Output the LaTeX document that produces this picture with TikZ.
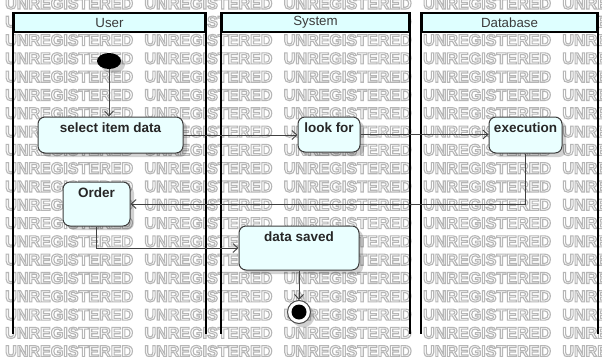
\documentclass[tikz,border=0pt]{standalone}
\usepackage{fontspec}
\setmainfont{Liberation Sans}
\usetikzlibrary{arrows.meta,shadows,shapes.geometric}
\definecolor{headfill}{RGB}{222,255,255}
\definecolor{actfill}{RGB}{234,255,255}
\definecolor{actline}{RGB}{60,60,60}
\definecolor{wmgray}{RGB}{182,182,182}
\definecolor{txtgray}{RGB}{60,60,60}
\newcommand{\wmword}{\special{pdf:literal direct 1 Tr 1.1 w}UNREGISTERED\special{pdf:literal direct 0 Tr}}
\begin{document}
\begin{tikzpicture}[x=1pt,y=-1pt,
  lane/.style={line width=2pt, draw=black},
  head/.style={draw=black, line width=2pt, fill=headfill, inner sep=0pt},
  headtxt/.style={font=\fontsize{13.3}{15}\selectfont, text=txtgray},
  shad/.style={drop shadow={shadow xshift=4pt, shadow yshift=-4pt, fill=black, opacity=0.18}},
  act/.style={draw=actline, line width=1pt, fill=actfill, rounded corners=7pt,
    inner xsep=0pt, inner ysep=0pt, text height=15.5pt,
    font=\bfseries\fontsize{13.5}{16}\selectfont, text=black!85, shad},
  flow/.style={draw=black!75, line width=0.9pt, -{Straight Barb[length=5pt,width=9pt]}},
  wm/.style={font=\bfseries\fontsize{16.1}{18}\selectfont, text=wmgray, anchor=west, inner sep=0pt},
]
\useasboundingbox (0,0) rectangle (602,356);
\fill[white] (0,0) rectangle (602,356);
% watermark
\begin{scope}
\clip (0,0) rectangle (602,356);
\foreach \r in {0,...,19}
  \foreach \k in {0,...,4}
    \node[wm] (wm-\r-\k) at ({5+139.3*\k},{3.5+18.3*\r}) {\wmword};
\end{scope}
% swimlanes
\node[head, headtxt, minimum width=191pt, minimum height=19pt] (huser) at (109.5,22.5) {User};
\node[head, headtxt, minimum width=187pt, minimum height=19pt] (hsys) at (315.5,22.5) {System};
\node[head, headtxt, minimum width=175pt, minimum height=19pt] (hdb) at (509.5,22.5) {Database};
\draw[lane] (huser.north west) -- ++(0,322);
\draw[lane] (huser.north east) -- ++(0,322);
\draw[lane] (hsys.north west) -- ++(0,322);
\draw[lane] (hsys.north east) -- ++(0,322);
\draw[lane] (hdb.north west) -- ++(0,322);
\draw[lane] (hdb.north east) -- ++(0,322);
% nodes
\node[ellipse, fill=black, minimum width=24pt, minimum height=16pt, inner sep=0pt, shad] (start) at (109,61) {};
\node[act, minimum width=145pt, minimum height=36pt, text depth=20.5pt] (sel) at (110.5,135) {select item data};
\node[act, minimum width=62pt, minimum height=35pt, text depth=19.5pt] (look) at (329,134.5) {look for};
\node[act, minimum width=73pt, minimum height=36pt, text depth=20.5pt] (exec) at (525.5,135) {execution};
\node[act, minimum width=67pt, minimum height=44pt, text depth=28.5pt] (order) at (96.5,204) {Order};
\node[act, minimum width=120pt, minimum height=44pt, text depth=28.5pt] (saved) at (299,248) {data saved};
\node[circle, draw=black!70, fill=white, line width=1pt, minimum size=23pt, inner sep=0pt, shad] (final) at (299,312) {};
\node[circle, fill=black, minimum size=15pt, inner sep=0pt] (finalin) at (final.center) {};
% flows
\draw[flow] (start) -- (start |- sel.north);
\draw[flow] (sel.east) -- (sel.east -| look.west);
\draw[flow] (look.east) -- (look.east -| exec.west);
\draw[flow] (exec.south) |- (order.east);
\draw[flow] (order.south) |- (saved.west);
\draw[flow] (saved.south) -- (final.north);
\end{tikzpicture}
\end{document}
